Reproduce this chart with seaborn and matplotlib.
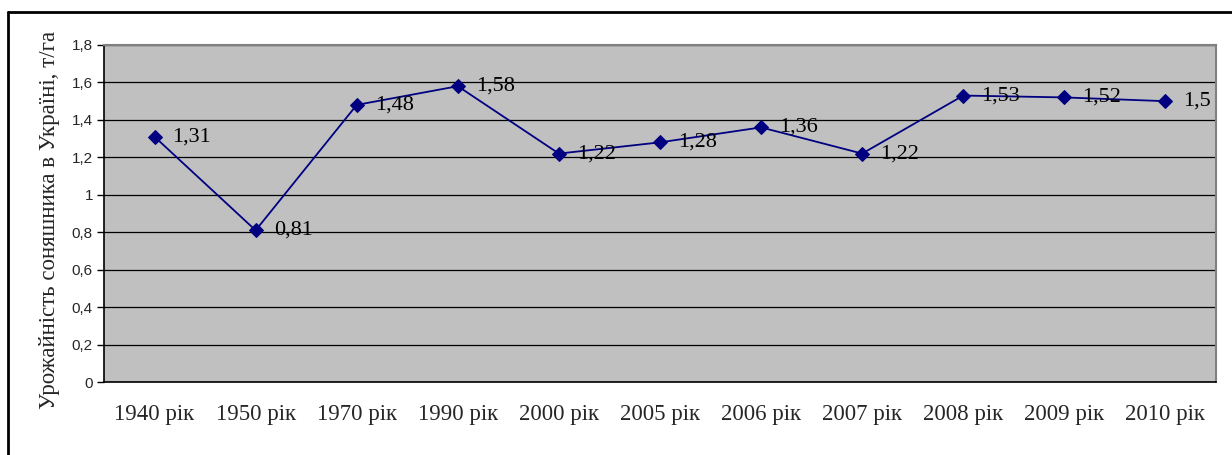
import matplotlib
matplotlib.use("Agg")
import matplotlib.pyplot as plt
import seaborn as sns
import numpy as np
from matplotlib.ticker import FixedLocator

categories = ["1940 рік", "1950 рік", "1970 рік", "1990 рік", "2000 рік", "2005 рік",
              "2006 рік", "2007 рік", "2008 рік", "2009 рік", "2010 рік"]
values = [1.31, 0.81, 1.48, 1.58, 1.22, 1.28, 1.36, 1.22, 1.53, 1.52, 1.5]
labels = ["1,31", "0,81", "1,48", "1,58", "1,22", "1,28", "1,36", "1,22", "1,53", "1,52", "1,5"]
yticks = [0, 0.2, 0.4, 0.6, 0.8, 1.0, 1.2, 1.4, 1.6, 1.8]
yticklabels = ["0", "0,2", "0,4", "0,6", "0,8", "1", "1,2", "1,4", "1,6", "1,8"]
ylabel = "Урожайність соняшника в Україні, т/га"

sns.set_style("white")
plt.rcParams['font.family'] = ['Liberation Serif', 'DejaVu Serif']

fig = plt.figure(figsize=(12.32, 4.55), dpi=100)
ax = fig.add_axes([104/1232, 1-382/455, (1216-104)/1232, (382-45)/455])
ax.set_facecolor("#C0C0C0")

sns.lineplot(x=categories, y=values, ax=ax, color="#000080", marker="D",
             markersize=7.5, markeredgecolor="#000080", linewidth=1.3, sort=False)

ax.set_xlim(-0.5, len(categories) - 0.5)
ax.set_ylim(0, 1.8)
ax.set_yticks(yticks)
ax.set_yticklabels(yticklabels, family="Liberation Sans", fontsize=11)
ax.yaxis.grid(True, color="black", linewidth=0.9)
ax.set_axisbelow(True)

ax.set_xticks(range(len(categories)))
ax.set_xticklabels(categories, fontsize=16.5)
ax.xaxis.set_minor_locator(FixedLocator(np.arange(-0.5, len(categories), 1)))
ax.tick_params(axis="x", which="major", length=0, pad=16)
ax.tick_params(axis="x", which="minor", length=7, width=1, color="black", direction="out")
ax.tick_params(axis="y", length=5, width=1, color="black", direction="out", pad=3, left=True)

for s in ["left", "bottom"]:
    ax.spines[s].set_color("black")
    ax.spines[s].set_linewidth(1.2)
for s in ["top", "right"]:
    ax.spines[s].set_color("#808080")
    ax.spines[s].set_linewidth(1.5)

for i, (v, t) in enumerate(zip(values, labels)):
    ax.annotate(t, (i, v), xytext=(13, 0), textcoords="offset points",
                ha="left", va="center", fontsize=16, color="black")

ax.set_xlabel("")
ax.set_ylabel(ylabel, fontsize=16.5, va="center")
ax.yaxis.set_label_coords(-0.049, 0.48)

# outer frame (left and top edges visible)
fig.add_artist(plt.Line2D([8/1232, 8/1232], [0, 1-12/455], transform=fig.transFigure,
                          color="black", linewidth=2))
fig.add_artist(plt.Line2D([8/1232, 1.0], [1-12/455, 1-12/455], transform=fig.transFigure,
                          color="black", linewidth=2))

fig.savefig("out.png", dpi=100)
